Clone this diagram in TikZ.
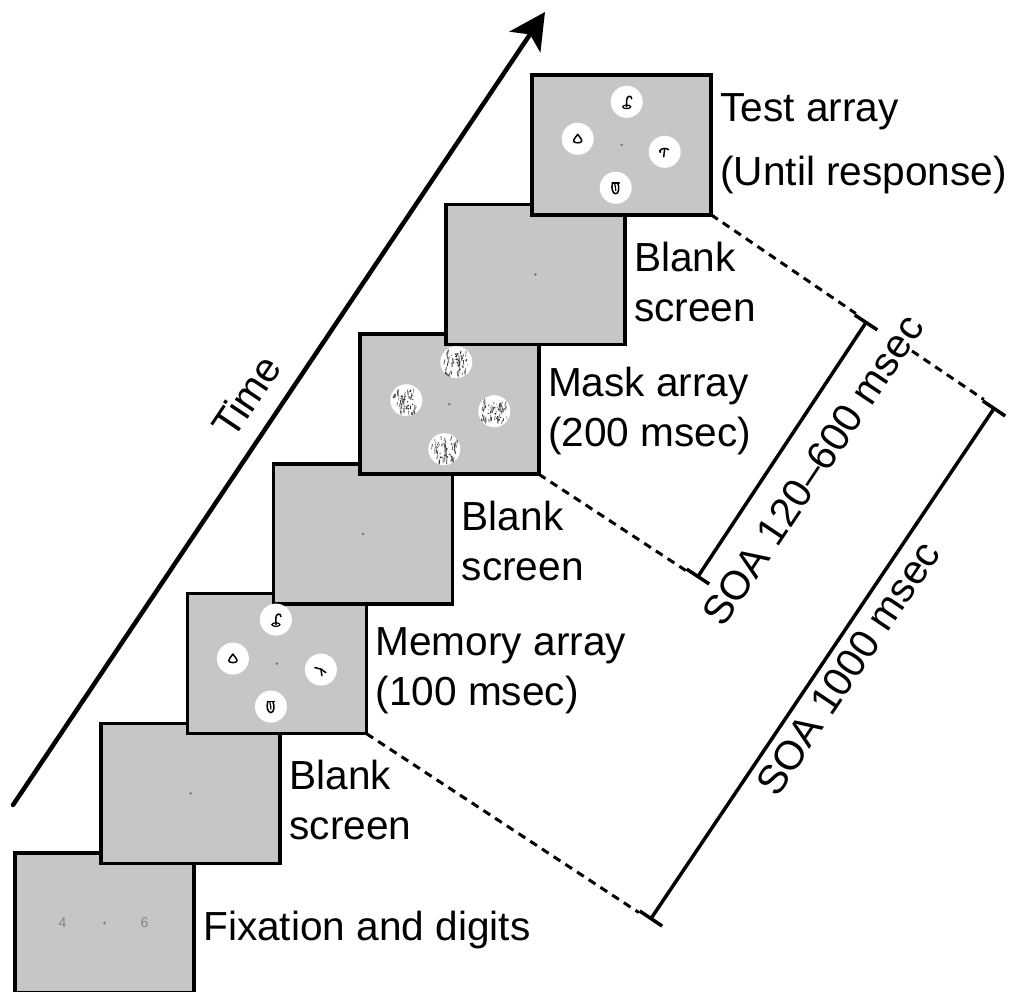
\documentclass[tikz,border=0pt]{standalone}
\usepackage{fontspec}
\setmainfont{Liberation Sans}
\usetikzlibrary{arrows.meta,calc}
\definecolor{scr}{RGB}{198,198,198}
\definecolor{dig}{RGB}{130,130,130}
\begin{document}
\begin{tikzpicture}[x=1pt,y=-1pt,
  screenbox/.style={rectangle, draw=black, line width=3.6pt, fill=scr, minimum width=179pt, minimum height=140pt, inner sep=0pt, outer sep=0pt},
  lab/.style={font=\fontsize{40.6}{50}\selectfont, align=left, anchor=west, inner sep=0pt},
  fixdot/.style={circle, fill=black!55, inner sep=0pt, minimum size=2.6pt},
  item/.style={circle, fill=white, inner sep=0pt, minimum size=32pt},
  dashline/.style={line width=3pt, dash pattern=on 8pt off 6pt},
  bracketline/.style={line width=3.5pt, {Bar[width=27pt]}-{Bar[width=27pt]}},
  glyph/.style={line width=1.5pt, line cap=round, line join=round},
  symhook/.pic={\draw[glyph] (0,5) -- (0,-2) .. controls (0,-6) and (5,-7) .. (5,-3);
                \draw[line width=1.2pt] (0,5) ellipse (4pt and 1.8pt);},
  symdrop/.pic={\draw[glyph] (0,-4.5) .. controls (1.5,-2) and (4.5,0.5) .. (4,2.5) .. controls (3.5,4.5) and (-3.5,4.5) .. (-4,2.5) .. controls (-4.5,0.5) and (-1.5,-2) .. (0,-4.5) -- cycle;},
  symcup/.pic={\draw[glyph] (-3.5,-5) -- (3.5,-5);
               \draw[glyph] (-3,-5) .. controls (-5,0) and (-3,6) .. (0,6) .. controls (3,6) and (4,0) .. (2,-5);
               \draw[line width=1.2pt] (-1,-5) .. controls (-1,-1) and (1,1) .. (0,3);},
  symtr/.pic={\draw[glyph] (-5,-1) .. controls (-3,-4) and (2,-4) .. (4,-2);
              \draw[glyph] (0,-3.2) -- (-1,5);
              \fill (-4.5,0) circle (1.3pt);},
  symlam/.pic={\draw[glyph] (-6,-2) -- (0,-0.5) -- (5,3);
               \draw[glyph] (0,-0.5) -- (1,6);},
  masktex/.pic={\begin{scope}
                 \clip (0,0) circle (16pt);
                 \foreach \k in {1,...,45}{
                   \pgfmathsetmacro{\gl}{40+45*rnd}
                   \draw[line width={0.5+0.7*rnd}, black!\gl] ({rand*13},{rand*13}) -- ++({rand*1.5},{2+4*rnd});
                 }
                 \foreach \k in {1,...,18}{
                   \fill[black!80] ({rand*8},{rand*9}) circle ({0.4+0.6*rnd});
                 }
               \end{scope}}
]
\pgfmathsetseed{7}
\useasboundingbox (0,0) rectangle (1012,991);

% time arrow
\coordinate (ta) at (13,805);
\coordinate (tb) at (545,12);
\draw[line width=4.5pt, line cap=round, -{Stealth[length=36pt,width=37pt,inset=9pt]}] (ta) -- (tb);
\node[lab, anchor=center, rotate=56.1] (time) at (246,396) {Time};

% screens
\foreach \i in {0,...,6}{
  \node[screenbox] (s\i) at ({104.5+86.2*\i},{923-129.7*\i}) {};
}
\foreach \i in {0,...,6}{
  \node[fixdot] (f\i) at (s\i.center) {};
}

% fixation digits
\node[font=\fontsize{14}{14}\selectfont, text=dig, inner sep=0pt] (d4) at ($(s0.center)+(-42,0)$) {4};
\node[font=\fontsize{14}{14}\selectfont, text=dig, inner sep=0pt] (d6) at ($(s0.center)+(40,0)$) {6};

% memory array
\node[item] (m1) at ($(s2.center)+(-1,-44)$) {};
\node[item] (m2) at ($(s2.center)+(-44,-5)$) {};
\node[item] (m3) at ($(s2.center)+(44,6)$) {};
\node[item] (m4) at ($(s2.center)+(-6,43)$) {};
\pic at (m1) {symhook};
\pic at (m2) {symdrop};
\pic at (m3) {symlam};
\pic at (m4) {symcup};

% mask array
\node[item] (k1) at ($(s4.center)+(7,-42)$) {};
\node[item] (k2) at ($(s4.center)+(-43,-4)$) {};
\node[item] (k3) at ($(s4.center)+(45,7)$) {};
\node[item] (k4) at ($(s4.center)+(-5,45)$) {};
\pic at (k1) {masktex};
\pic at (k2) {masktex};
\pic at (k3) {masktex};
\pic at (k4) {masktex};

% test array
\node[item] (t1) at ($(s6.center)+(5,-43)$) {};
\node[item] (t2) at ($(s6.center)+(-44,-6)$) {};
\node[item] (t3) at ($(s6.center)+(43,7)$) {};
\node[item] (t4) at ($(s6.center)+(-6,43)$) {};
\pic at (t1) {symhook};
\pic at (t2) {symdrop};
\pic at (t3) {symtr};
\pic at (t4) {symcup};

% labels
\node[lab] (l0) at ($(s0.east)+(9,7)$) {Fixation and digits};
\node[lab] (l1) at ($(s1.east)+(9,7)$) {Blank\\screen};
\node[lab] (l2) at ($(s2.east)+(9,7)$) {Memory array\\(100 msec)};
\node[lab] (l3) at ($(s3.east)+(9,7)$) {Blank\\screen};
\node[lab] (l4) at ($(s4.east)+(9,7)$) {Mask array\\(200 msec)};
\node[lab] (l5) at ($(s5.east)+(9,7)$) {Blank\\screen};
\node[lab] (l6) at ($(s6.east)+(9,-1)$) {Test array\\[14pt](Until response)};

% SOA brackets
\coordinate (a1) at (697,578);
\coordinate (a2) at (867,321);
\coordinate (b1) at (650,920);
\coordinate (b2) at (995,407);
\coordinate (a1c) at (685.8,570.5);
\coordinate (a2c) at (855.8,313.5);
\coordinate (g1) at (912,351);
\coordinate (b1c) at (638.8,912.5);
\coordinate (b2c) at (983.8,399.5);
\draw[bracketline] (a1) -- (a2);
\draw[bracketline] (b1) -- (b2);
\draw[dashline] (s6.south east) -- (a2c);
\draw[dashline] (g1) -- (b2c);
\draw[dashline] (s4.south east) -- (a1c);
\draw[dashline] (s2.south east) -- (b1c);
\node[lab, anchor=center, rotate=56.3] (t120) at (813,470) {SOA 120–600 msec};
\node[lab, anchor=center, rotate=56.1] (t1000) at (848,668) {SOA 1000 msec};
\end{tikzpicture}
\end{document}
